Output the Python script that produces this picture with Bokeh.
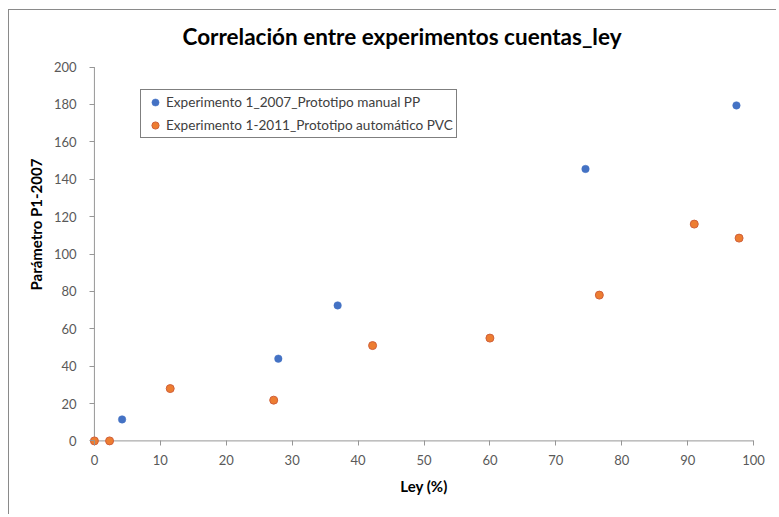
from bokeh.plotting import figure
from bokeh.models import Range1d, FixedTicker, Title, Legend, LegendItem
from bokeh.embed import file_html
from bokeh.resources import INLINE

title_text = "Correlación entre experimentos cuentas_ley"
x_title = "Ley (%)"
y_title = "Parámetro P1-2007"
series1_name = "Experimento 1_2007_Prototipo manual PP"
series2_name = "Experimento 1-2011_Prototipo automático PVC"

blue_x = [4.2, 27.9, 36.9, 74.5, 97.4]
blue_y = [11.5, 44.0, 72.5, 145.5, 179.5]
orange_x = [0.0, 2.3, 11.5, 27.2, 42.2, 60.0, 76.6, 91.0, 97.8]
orange_y = [0.0, 0.0, 28.0, 21.8, 51.0, 55.0, 78.0, 116.0, 108.5]

x_ticks = [0, 10, 20, 30, 40, 50, 60, 70, 80, 90, 100]
y_ticks = [0, 20, 40, 60, 80, 100, 120, 140, 160, 180, 200]

FONT = "Lato"
AXIS_GREY = "#969696"

p = figure(width=768, height=505, output_backend="svg", toolbar_location=None,
           x_range=Range1d(-1.2, 101.2), y_range=Range1d(-3, 203),
           min_border_left=77, min_border_right=16, min_border_top=51, min_border_bottom=69)
p.styles = {"border-left": "1px solid #8a8a8a", "border-top": "1px solid #8a8a8a",
            "margin-left": "8px", "margin-top": "9px"}
p.background_fill_color = "white"
p.border_fill_color = "white"
p.outline_line_color = None
p.xgrid.visible = False
p.ygrid.visible = False

p.title.text = title_text
p.title.text_font = FONT
p.title.text_font_size = "22.5px"
p.title.text_font_style = "bold"
p.title.text_color = "black"
p.title.align = "left"
p.title.vertical_align = "top"
p.title.offset = 96
p.title.standoff = 19

for ax, ticks, bounds in ((p.xaxis[0], x_ticks, (x_ticks[0], x_ticks[-1])),
                          (p.yaxis[0], y_ticks, (y_ticks[0], y_ticks[-1]))):
    ax.ticker = FixedTicker(ticks=ticks)
    ax.bounds = bounds
    ax.axis_line_color = None
    ax.major_tick_line_color = AXIS_GREY
    ax.minor_tick_line_color = None
    ax.major_label_text_font = FONT
    ax.major_label_text_font_size = "13px"
    ax.major_label_text_color = "#595959"

# axes sit at x=0 / y=0, a little inside the padded frame
p.xaxis[0].major_tick_in = 6
p.xaxis[0].major_tick_out = -1
p.xaxis[0].major_label_standoff = 8
p.yaxis[0].major_tick_in = 8
p.yaxis[0].major_tick_out = -3
p.yaxis[0].major_label_standoff = 10

p.xaxis[0].axis_label = x_title
p.xaxis[0].axis_label_text_font = FONT
p.xaxis[0].axis_label_text_font_size = "15px"
p.xaxis[0].axis_label_text_font_style = "bold"
p.xaxis[0].axis_label_text_color = "black"
p.xaxis[0].axis_label_standoff = 9

# axis lines drawn from the tick arrays
p.segment(x0=[x_ticks[0], x_ticks[0]], y0=[y_ticks[0], y_ticks[0]],
          x1=[x_ticks[0], x_ticks[-1]], y1=[y_ticks[-1], y_ticks[0]],
          line_color=AXIS_GREY, line_width=1)

ytitle = Title(text=y_title, align="left", offset=156,
               text_font=FONT, text_font_size="15px", text_font_style="bold",
               text_color="black", standoff=12)
p.add_layout(ytitle, "left")

r1 = p.scatter(blue_x, blue_y, size=7.5, fill_color="#4472C4", line_color="#4472C4", line_width=0.5)
r2 = p.scatter(orange_x, orange_y, size=8, fill_color="#ED7D31", line_color="#D0603A", line_width=1)

legend = Legend(items=[LegendItem(label=series1_name, renderers=[r1]),
                       LegendItem(label=series2_name, renderers=[r2])],
                location=(54, 308), orientation="vertical")
legend.border_line_color = "black"
legend.border_line_width = 1
legend.background_fill_color = "white"
legend.background_fill_alpha = 1
legend.label_text_font = FONT
legend.label_text_font_size = "13.6px"
legend.label_text_color = "#404040"
legend.glyph_width = 22
legend.glyph_height = 18
legend.label_height = 18
legend.label_standoff = 0
legend.spacing = 5
legend.padding = 3
legend.margin = 0
p.add_layout(legend)

open("out.html", "w").write(file_html(p, INLINE))
